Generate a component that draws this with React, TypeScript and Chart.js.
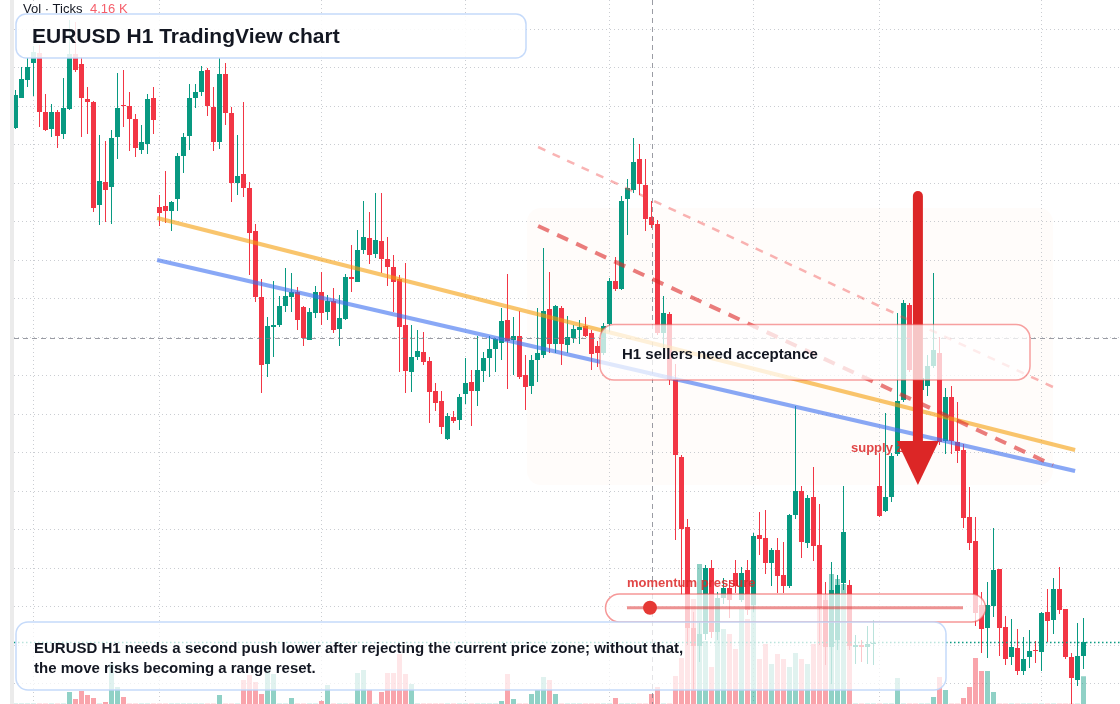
import { useEffect, useRef } from "react";
import { Chart, registerables } from "chart.js";

Chart.register(...registerables);

// ---------------- data: EURUSD H1 candles (oldest -> newest) ----------------
const openPrices = [
  1.09744, 1.09804, 1.0984, 1.09874, 1.09894, 1.09776, 1.09742, 1.09776, 1.09732, 1.09782,
  1.09892, 1.09872, 1.09802, 1.09796, 1.0959, 1.09636, 1.09626, 1.09726, 1.0979, 1.09788,
  1.09762, 1.097, 1.09712, 1.09804, 1.09586, 1.09588, 1.09578, 1.09602, 1.09688, 1.09728,
  1.09804, 1.09816, 1.0986, 1.09786, 1.09716, 1.09852, 1.09774, 1.09634, 1.09652, 1.09624,
  1.09538, 1.09406, 1.09272, 1.09346, 1.0935, 1.09388, 1.09406, 1.09416, 1.09386, 1.0932,
  1.09374, 1.09416, 1.09376, 1.09398, 1.09342, 1.09362, 1.09446, 1.09436, 1.095, 1.09524,
  1.09492, 1.09518, 1.09482, 1.09466, 1.09442, 1.0935, 1.09256, 1.09286, 1.09296, 1.09278,
  1.09218, 1.09198, 1.09122, 1.09166, 1.0916, 1.09212, 1.09236, 1.09218, 1.09258, 1.09284,
  1.09302, 1.09314, 1.0936, 1.0932, 1.09328, 1.0925, 1.09228, 1.0928, 1.0929, 1.09382,
  1.09312, 1.09384, 1.0931, 1.09324, 1.0934, 1.09348, 1.09334, 1.09308, 1.09294, 1.09352,
  1.09438, 1.09422, 1.09602, 1.0962, 1.09682, 1.0963, 1.09566, 1.09552, 1.09334, 1.09372,
  1.09242, 1.09086, 1.08946, 1.08744, 1.08708, 1.08732, 1.08864, 1.08736, 1.08804, 1.08824,
  1.08854, 1.088, 1.0886, 1.0879, 1.0893, 1.08924, 1.08874, 1.089, 1.0885, 1.08828,
  1.0897, 1.09018, 1.08914, 1.09006, 1.0891, 1.088, 1.08706, 1.0872, 1.08834, 1.0883,
  1.08706, 1.0871, 1.08706, 1.08712, 1.09028, 1.08978, 1.09006, 1.09092, 1.092, 1.0939,
  1.0926, 1.0922, 1.09228, 1.09268, 1.09294, 1.09118, 1.09206, 1.09116, 1.091, 1.08966,
  1.08918, 1.0879, 1.08744, 1.08788, 1.08862, 1.08746, 1.08686, 1.08704, 1.08658, 1.08686,
  1.087, 1.08696, 1.08776, 1.0876, 1.08822, 1.08782, 1.08686, 1.0864, 1.08688,
];
const highPrices = [
  1.0982, 1.09866, 1.09884, 1.09908, 1.0991, 1.09812, 1.09792, 1.0978, 1.09844, 1.0996,
  1.09956, 1.09886, 1.09826, 1.09798, 1.0973, 1.09718, 1.0974, 1.09854, 1.0986, 1.09816,
  1.09772, 1.0975, 1.09812, 1.09826, 1.0961, 1.09658, 1.09598, 1.09694, 1.09734, 1.09832,
  1.09832, 1.09868, 1.09864, 1.09826, 1.09884, 1.09874, 1.09786, 1.0973, 1.09796, 1.09636,
  1.09552, 1.09442, 1.09366, 1.09438, 1.09408, 1.09464, 1.09454, 1.09426, 1.09388, 1.09384,
  1.09428, 1.09456, 1.0941, 1.09424, 1.0941, 1.09452, 1.0951, 1.0954, 1.09598, 1.09576,
  1.09614, 1.09614, 1.09526, 1.0949, 1.0945, 1.09474, 1.0935, 1.0934, 1.09336, 1.09286,
  1.09234, 1.09218, 1.09174, 1.09178, 1.09212, 1.09284, 1.0926, 1.09328, 1.09296, 1.09328,
  1.09324, 1.09384, 1.09452, 1.09366, 1.09378, 1.0929, 1.0929, 1.09384, 1.09504, 1.09456,
  1.0939, 1.09388, 1.09368, 1.0935, 1.0936, 1.09366, 1.0934, 1.09318, 1.09354, 1.09444,
  1.09486, 1.09608, 1.09642, 1.09724, 1.09712, 1.09682, 1.09598, 1.0956, 1.09408, 1.09376,
  1.09272, 1.0909, 1.08962, 1.08776, 1.08756, 1.0887, 1.0888, 1.08816, 1.08844, 1.0884,
  1.0888, 1.08866, 1.0888, 1.08934, 1.08976, 1.0898, 1.08904, 1.08924, 1.08916, 1.08972,
  1.09188, 1.09028, 1.0901, 1.09066, 1.08992, 1.08836, 1.08876, 1.0885, 1.09028, 1.0884,
  1.0873, 1.0872, 1.08748, 1.0876, 1.09094, 1.09174, 1.09094, 1.09374, 1.094, 1.09394,
  1.09276, 1.0927, 1.0929, 1.09454, 1.09326, 1.09224, 1.09228, 1.09196, 1.09112, 1.09026,
  1.08966, 1.08816, 1.08836, 1.08944, 1.08862, 1.08768, 1.08762, 1.08742, 1.08726, 1.0874,
  1.08718, 1.08776, 1.08822, 1.08844, 1.08866, 1.08782, 1.08694, 1.08754, 1.08764,
];
const lowPrices = [
  1.09742, 1.09804, 1.09826, 1.09808, 1.09746, 1.09738, 1.09726, 1.09704, 1.09722, 1.0978,
  1.09856, 1.09726, 1.09732, 1.09576, 1.0955, 1.09556, 1.09552, 1.09682, 1.09746, 1.09698,
  1.09686, 1.09692, 1.09692, 1.09732, 1.09548, 1.09554, 1.09538, 1.09578, 1.09654, 1.097,
  1.09784, 1.09808, 1.09768, 1.09698, 1.09702, 1.0975, 1.09596, 1.0961, 1.09606, 1.0945,
  1.09396, 1.09214, 1.09246, 1.09286, 1.09346, 1.09376, 1.09376, 1.0934, 1.09308, 1.0932,
  1.09364, 1.0935, 1.0936, 1.09334, 1.09308, 1.0936, 1.09416, 1.09436, 1.09492, 1.09472,
  1.09484, 1.09454, 1.09428, 1.09376, 1.09256, 1.09214, 1.09216, 1.0928, 1.0927, 1.09154,
  1.09178, 1.09132, 1.0912, 1.09154, 1.0914, 1.09192, 1.09148, 1.09188, 1.09236, 1.09246,
  1.09256, 1.0928, 1.09222, 1.0925, 1.09242, 1.0918, 1.09212, 1.09236, 1.09284, 1.09294,
  1.09294, 1.0927, 1.09294, 1.09314, 1.09312, 1.09326, 1.0926, 1.09266, 1.0929, 1.09336,
  1.09418, 1.0942, 1.0953, 1.09614, 1.0961, 1.09538, 1.09544, 1.0933, 1.093, 1.0923,
  1.0892, 1.0881, 1.0871, 1.0862, 1.08676, 1.0872, 1.08724, 1.0872, 1.08792, 1.08764,
  1.08814, 1.08796, 1.0877, 1.08776, 1.0889, 1.08852, 1.08828, 1.08814, 1.08814, 1.08824,
  1.08962, 1.08884, 1.08904, 1.08878, 1.0871, 1.0867, 1.08632, 1.087, 1.0882, 1.087,
  1.08672, 1.08676, 1.08672, 1.0867, 1.08966, 1.08976, 1.08996, 1.09088, 1.09196, 1.09256,
  1.0922, 1.0921, 1.09208, 1.09264, 1.0911, 1.09092, 1.09092, 1.09074, 1.08944, 1.089,
  1.08748, 1.08694, 1.08684, 1.08766, 1.08688, 1.0867, 1.0867, 1.0865, 1.0865, 1.08664,
  1.08674, 1.08658, 1.08716, 1.08732, 1.08772, 1.08682, 1.08592, 1.08628, 1.08662,
];
const closePrices = [
  1.0981, 1.09842, 1.09866, 1.09896, 1.09776, 1.0974, 1.09776, 1.09728, 1.09784, 1.09892,
  1.0986, 1.09804, 1.09796, 1.09584, 1.09638, 1.0962, 1.09724, 1.09784, 1.09788, 1.09762,
  1.09704, 1.09716, 1.09802, 1.0976, 1.09574, 1.09578, 1.09596, 1.09688, 1.09726, 1.09804,
  1.09816, 1.09858, 1.09788, 1.09716, 1.09852, 1.09774, 1.09634, 1.09648, 1.09624, 1.09534,
  1.09406, 1.0927, 1.09348, 1.0935, 1.09388, 1.09408, 1.09416, 1.0936, 1.09324, 1.09376,
  1.09416, 1.09374, 1.09398, 1.0934, 1.09364, 1.09446, 1.09442, 1.095, 1.09526, 1.0949,
  1.0952, 1.09482, 1.09466, 1.09436, 1.09346, 1.09258, 1.09286, 1.09298, 1.09276, 1.09216,
  1.09194, 1.09146, 1.09168, 1.09158, 1.09206, 1.09234, 1.09218, 1.0926, 1.09284, 1.09302,
  1.09322, 1.09358, 1.09318, 1.09328, 1.09246, 1.09226, 1.0928, 1.09294, 1.09378, 1.09312,
  1.09388, 1.09312, 1.09326, 1.09342, 1.09346, 1.09328, 1.09292, 1.09294, 1.09348, 1.09438,
  1.09422, 1.09598, 1.09624, 1.09676, 1.09632, 1.09562, 1.0955, 1.09334, 1.09374, 1.0924,
  1.0909, 1.08942, 1.08744, 1.08708, 1.08732, 1.08864, 1.08736, 1.08804, 1.08824, 1.088,
  1.08828, 1.08854, 1.0878, 1.08928, 1.08922, 1.08874, 1.089, 1.08848, 1.08828, 1.0897,
  1.09018, 1.08916, 1.09004, 1.08908, 1.08784, 1.08706, 1.0882, 1.0883, 1.08936, 1.08708,
  1.0871, 1.08706, 1.08712, 1.08714, 1.08968, 1.09006, 1.09088, 1.09198, 1.09394, 1.0926,
  1.0923, 1.09244, 1.09268, 1.093, 1.09116, 1.09206, 1.09118, 1.09098, 1.08964, 1.08914,
  1.08774, 1.08742, 1.0879, 1.0886, 1.08744, 1.08682, 1.08706, 1.08658, 1.08682, 1.08698,
  1.08698, 1.08774, 1.08758, 1.08822, 1.0878, 1.08686, 1.08644, 1.08688, 1.08716,
];
const tickVolumes = [
  45, 45, 45, 45, 45, 45, 45, 45, 45, 1800,
  750, 1950, 1350, 900, 45, 300, 6000, 2550, 1050, 45,
  45, 45, 45, 45, 45, 45, 45, 45, 45, 45,
  45, 45, 45, 45, 1350, 45, 45, 45, 3600, 4350,
  3300, 1500, 5400, 4500, 45, 45, 900, 45, 45, 45,
  45, 450, 2850, 45, 45, 45, 45, 4650, 5100, 2100,
  45, 1800, 4650, 4650, 7500, 4500, 3000, 45, 45, 45,
  45, 45, 45, 45, 45, 45, 45, 45, 45, 45,
  45, 450, 4500, 750, 45, 45, 1500, 2100, 4050, 3600,
  1500, 45, 45, 45, 45, 45, 45, 45, 45, 45,
  900, 45, 45, 45, 45, 45, 1500, 2550, 45, 45,
  4200, 6900, 11700, 15750, 21000, 9450, 5550, 15750, 11250, 10500,
  8250, 14250, 12750, 15000, 6750, 9000, 6000, 7500, 6750, 5550,
  7650, 6750, 6000, 9000, 14250, 16500, 19500, 18750, 18000, 15000,
  45, 45, 45, 45, 45, 45, 45, 3900, 45, 45,
  45, 45, 45, 1050, 4050, 2100, 45, 45, 900, 2550,
  6900, 4950, 4950, 1800, 45, 45, 45, 45, 45, 45,
  45, 45, 45, 45, 45, 45, 45, 45, 4160,
];

// axes / grid
const PRICE_MIN = 1.08592;
const PRICE_MAX = 1.1;
const GRID_START = 1.08633;
const GRID_STEP = 0.00077;
const VOL_MAX = 105600;
const X_MIN = -2.5833;
const X_MAX = 184.0833;
const timeGridIndex = [3, 24, 51, 75, 99, 123, 144, 171];

// drawings (index, price)
const crosshair = { index: 106, price: 1.09324 };
const orangeTrend = [[23.6, 1.09564], [176.6, 1.091]];
const blueTrend = [[23.6, 1.0948], [176.6, 1.09058]];
const upperDashed = [[87.1, 1.09706], [172.9, 1.09226]];
const lowerDashed = [[87.1, 1.09548], [172.9, 1.0907]];
const supplyZone = { from: 85.25, to: 172.9, top: 1.09584, bottom: 1.0903 };
const arrowMark = { index: 150.4, top: 1.09608, headBase: 1.09118, tip: 1.0903 };

// texts
const titleText = "EURUSD H1 TradingView chart";
const volLegend = "Vol · Ticks";
const volLegendValue = "4.16 K";
const noteLines = [
  "EURUSD H1 needs a second push lower after rejecting the current price zone; without that,",
  "the move risks becoming a range reset.",
];
const calloutText = "H1 sellers need acceptance";
const zoneLabel = "supply zone";
const meterLabel = "momentum pressure";

const UP = "#089981";
const DOWN = "#f23645";
const FONT = '"Liberation Sans", Arial, Helvetica, sans-serif';

function roundRect(ctx: CanvasRenderingContext2D, x: number, y: number, w: number, h: number, r: number) {
  ctx.beginPath();
  ctx.moveTo(x + r, y);
  ctx.lineTo(x + w - r, y);
  ctx.arcTo(x + w, y, x + w, y + r, r);
  ctx.lineTo(x + w, y + h - r);
  ctx.arcTo(x + w, y + h, x + w - r, y + h, r);
  ctx.lineTo(x + r, y + h);
  ctx.arcTo(x, y + h, x, y + h - r, r);
  ctx.lineTo(x, y + r);
  ctx.arcTo(x, y, x + r, y, r);
  ctx.closePath();
}

const overlayPlugin = {
  id: "overlay",
  beforeDraw(chart: any) {
    const ctx = chart.ctx as CanvasRenderingContext2D;
    ctx.save();
    ctx.fillStyle = "#ffffff";
    ctx.fillRect(0, 0, chart.width, chart.height);
    ctx.restore();
  },
  beforeDatasetsDraw(chart: any) {
    const ctx = chart.ctx as CanvasRenderingContext2D;
    const xs = chart.scales.x;
    const ys = chart.scales.y;
    const W = chart.width;
    const H = chart.height;
    ctx.save();
    // supply zone
    const zx0 = xs.getPixelForValue(supplyZone.from);
    const zx1 = xs.getPixelForValue(supplyZone.to);
    const zy0 = ys.getPixelForValue(supplyZone.top);
    const zy1 = ys.getPixelForValue(supplyZone.bottom);
    roundRect(ctx, zx0, zy0, zx1 - zx0, zy1 - zy0, 14);
    ctx.fillStyle = "rgba(240,140,60,0.022)";
    ctx.fill();
    // grid
    ctx.strokeStyle = "rgba(150,155,165,0.5)";
    ctx.lineWidth = 1;
    ctx.setLineDash([1, 3]);
    for (let p = GRID_START; p < PRICE_MAX; p += GRID_STEP) {
      const y = Math.round(ys.getPixelForValue(p) - 0.5) + 0.5;
      ctx.beginPath();
      ctx.moveTo(14, y);
      ctx.lineTo(W, y);
      ctx.stroke();
    }
    for (const gi of timeGridIndex) {
      const x = Math.round(xs.getPixelForValue(gi) - 0.5) + 0.5;
      ctx.beginPath();
      ctx.moveTo(x, 0);
      ctx.lineTo(x, H);
      ctx.stroke();
    }
    ctx.restore();
  },
  afterDatasetsDraw(chart: any) {
    const ctx = chart.ctx as CanvasRenderingContext2D;
    const xs = chart.scales.x;
    const ys = chart.scales.y;
    const W = chart.width;
    const H = chart.height;
    const X = (v: number) => xs.getPixelForValue(v);
    const Y = (v: number) => ys.getPixelForValue(v);
    ctx.save();

    // crosshair
    ctx.strokeStyle = "rgba(120,123,134,0.75)";
    ctx.lineWidth = 1;
    ctx.setLineDash([5, 4]);
    const cx = Math.round(X(crosshair.index)) + 0.5;
    const cy = Math.round(Y(crosshair.price)) + 0.5;
    ctx.beginPath();
    ctx.moveTo(cx, 0);
    ctx.lineTo(cx, H);
    ctx.moveTo(14, cy);
    ctx.lineTo(W, cy);
    ctx.stroke();

    // last price line
    const last = closePrices[closePrices.length - 1];
    const ly = Math.round(Y(last)) + 0.5;
    ctx.strokeStyle = UP;
    ctx.lineWidth = 1.5;
    ctx.setLineDash([1.5, 2.5]);
    ctx.beginPath();
    ctx.moveTo(14, ly);
    ctx.lineTo(W, ly);
    ctx.stroke();

    // trend lines
    const seg = (pts: number[][], color: string, width: number, dash: number[]) => {
      ctx.strokeStyle = color;
      ctx.lineWidth = width;
      ctx.setLineDash(dash);
      ctx.lineCap = "butt";
      ctx.beginPath();
      ctx.moveTo(X(pts[0][0]), Y(pts[0][1]));
      ctx.lineTo(X(pts[1][0]), Y(pts[1][1]));
      ctx.stroke();
    };
    seg(orangeTrend, "rgba(245,158,11,0.6)", 4, []);
    seg(blueTrend, "rgba(59,110,240,0.6)", 4, []);
    seg(upperDashed, "rgba(239,68,68,0.4)", 2.5, [8, 8]);
    seg(lowerDashed, "rgba(220,38,38,0.6)", 4, [12, 9]);
    ctx.setLineDash([]);

    // supply zone label
    ctx.font = `bold 13px ${FONT}`;
    ctx.fillStyle = "rgba(220,38,38,0.85)";
    ctx.textBaseline = "alphabetic";
    ctx.textAlign = "left";
    ctx.fillText(zoneLabel, 851, 452);

    // arrow
    const ax = X(arrowMark.index);
    ctx.strokeStyle = "#dc2626";
    ctx.fillStyle = "#dc2626";
    ctx.lineWidth = 10;
    ctx.lineCap = "round";
    ctx.beginPath();
    ctx.moveTo(ax, Y(arrowMark.top));
    ctx.lineTo(ax, Y(arrowMark.headBase) + 2);
    ctx.stroke();
    ctx.lineCap = "butt";
    ctx.beginPath();
    ctx.moveTo(ax - 21, Y(arrowMark.headBase));
    ctx.lineTo(ax + 21, Y(arrowMark.headBase));
    ctx.lineTo(ax, Y(arrowMark.tip));
    ctx.closePath();
    ctx.fill();

    // callout box
    roundRect(ctx, 600, 324.5, 430, 55.5, 14);
    ctx.fillStyle = "rgba(255,255,255,0.74)";
    ctx.fill();
    ctx.strokeStyle = "rgba(239,68,68,0.5)";
    ctx.lineWidth = 1.5;
    ctx.stroke();
    ctx.fillStyle = "#131722";
    ctx.font = `bold 15px ${FONT}`;
    ctx.fillText(calloutText, 622, 359);

    // momentum meter
    ctx.font = `bold 13px ${FONT}`;
    ctx.fillStyle = "rgba(220,38,38,0.85)";
    ctx.fillText(meterLabel, 627, 587);
    roundRect(ctx, 605.5, 594, 380, 28, 14);
    ctx.fillStyle = "rgba(255,255,255,0.75)";
    ctx.fill();
    ctx.strokeStyle = "rgba(239,68,68,0.55)";
    ctx.lineWidth = 1.5;
    ctx.stroke();
    ctx.strokeStyle = "rgba(220,38,38,0.5)";
    ctx.lineWidth = 3;
    ctx.beginPath();
    ctx.moveTo(627, 607.7);
    ctx.lineTo(963, 607.7);
    ctx.stroke();
    ctx.fillStyle = "#e53935";
    ctx.beginPath();
    ctx.arc(650, 607.7, 7, 0, Math.PI * 2);
    ctx.fill();

    // note box
    roundRect(ctx, 16, 622, 930, 68, 12);
    ctx.fillStyle = "rgba(255,255,255,0.72)";
    ctx.fill();
    ctx.strokeStyle = "rgba(191,214,250,0.9)";
    ctx.lineWidth = 1.5;
    ctx.stroke();
    ctx.fillStyle = "#131722";
    ctx.font = `bold 15px ${FONT}`;
    ctx.fillText(noteLines[0], 34, 653);
    ctx.fillText(noteLines[1], 34, 673);

    // title box
    roundRect(ctx, 16, 14, 510, 44, 10);
    ctx.fillStyle = "rgba(255,255,255,0.87)";
    ctx.fill();
    ctx.strokeStyle = "rgba(191,214,250,0.9)";
    ctx.lineWidth = 1.5;
    ctx.stroke();
    ctx.fillStyle = "#131722";
    ctx.font = `bold 21px ${FONT}`;
    ctx.fillText(titleText, 32, 43);

    // volume legend
    ctx.font = `13px ${FONT}`;
    ctx.fillStyle = "#131722";
    ctx.fillText(volLegend, 23, 13);
    ctx.fillStyle = "rgba(242,54,69,0.8)";
    ctx.fillText(volLegendValue, 90, 13);

    // left scale strip
    ctx.fillStyle = "#ebebeb";
    ctx.fillRect(10, 0, 4, H);

    ctx.restore();
  },
};

export default function App() {
  const ref = useRef<HTMLCanvasElement>(null);
  useEffect(() => {
    const canvas = ref.current;
    if (!canvas) return;
    const idx = closePrices.map((_, i) => i);
    const up = idx.map((i) => closePrices[i] >= openPrices[i]);
    const colors = up.map((u) => (u ? UP : DOWN));
    const volColors = up.map((u) => (u ? "rgba(8,153,129,0.45)" : "rgba(242,54,69,0.45)"));
    const chart = new Chart(canvas, {
      type: "bar",
      data: {
        datasets: [
          {
            label: "Body",
            data: idx.map((i) => ({ x: i, y: [openPrices[i], closePrices[i]] })) as any,
            backgroundColor: colors,
            barThickness: 5,
            grouped: false,
            minBarLength: 1,
            inflateAmount: 0,
            borderWidth: 0,
            order: 1,
            yAxisID: "y",
          } as any,
          {
            label: "Wick",
            data: idx.map((i) => ({ x: i, y: [lowPrices[i], highPrices[i]] })) as any,
            backgroundColor: colors,
            barThickness: 1,
            grouped: false,
            inflateAmount: 0,
            borderWidth: 0,
            order: 2,
            yAxisID: "y",
          } as any,
          {
            label: "Volume",
            data: idx.map((i) => ({ x: i, y: tickVolumes[i] })) as any,
            backgroundColor: volColors,
            barThickness: 5,
            grouped: false,
            inflateAmount: 0,
            borderWidth: 0,
            order: 3,
            yAxisID: "yVol",
          } as any,
        ],
      },
      options: {
        responsive: false,
        maintainAspectRatio: false,
        animation: false,
        devicePixelRatio: 1,
        events: [],
        layout: { padding: 0 },
        plugins: { legend: { display: false }, tooltip: { enabled: false }, title: { display: false } },
        scales: {
          x: { type: "linear", min: X_MIN, max: X_MAX, display: false, offset: false },
          y: { type: "linear", min: PRICE_MIN, max: PRICE_MAX, display: false },
          yVol: { type: "linear", axis: "y", min: 0, max: VOL_MAX, display: false },
        } as any,
      },
      plugins: [overlayPlugin],
    });
    return () => chart.destroy();
  }, []);
  return (
    <div style={{ position: "absolute", left: 0, top: 0, width: 1120, height: 704, background: "#fff" }}>
      <canvas ref={ref} width={1120} height={704} style={{ display: "block", width: 1120, height: 704 }} />
    </div>
  );
}
